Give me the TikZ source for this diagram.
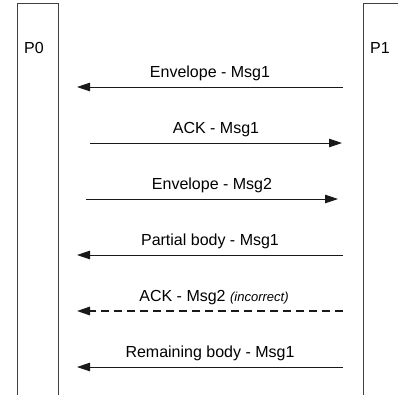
\documentclass[tikz,border=0pt]{standalone}
\usepackage{fontspec}
\setmainfont{Liberation Sans}
\usetikzlibrary{arrows.meta}
\begin{document}
\begin{tikzpicture}[x=1pt,y=-1pt,
  lane/.style={draw=black!75, line width=0.9pt},
  msg/.style={draw=black!90, line width=0.9pt, -{Triangle[length=13pt,width=8.5pt]}},
  wrongmsg/.style={msg, line width=1.5pt, dash pattern=on 8pt off 5pt},
  lbl/.style={font=\fontsize{16}{19}\selectfont, anchor=base, inner sep=0pt, text=black},
  proc/.style={font=\fontsize{16}{19}\selectfont, anchor=base west, inner sep=0pt, text=black}]
\useasboundingbox (0,0) rectangle (398,394);

% process columns (open at the bottom)
\draw[lane] (17,396) -- (17,3) -- (58,3) -- (58,396);
\draw[lane] (363,396) -- (363,3) -- (400,3);
\node[proc] (p0) at (24,53) {P0};
\node[proc] (p1) at (370,53) {P1};

% message end points
\coordinate (a1) at (343,87);  \coordinate (b1) at (77,87);
\coordinate (a2) at (90,143);  \coordinate (b2) at (342,143);
\coordinate (a3) at (86,199);  \coordinate (b3) at (338,199);
\coordinate (a4) at (343,255); \coordinate (b4) at (77,255);
\coordinate (a5) at (343,311); \coordinate (b5) at (77,311);
\coordinate (a6) at (343,367); \coordinate (b6) at (77,367);

% messages
\draw[msg] (a1) -- (b1);
\draw[msg] (a2) -- (b2);
\draw[msg] (a3) -- (b3);
\draw[msg] (a4) -- (b4);
\draw[wrongmsg] (a5) -- (b5);
\draw[msg] (a6) -- (b6);

% labels
\node[lbl] (l1) at (210,77) {Envelope - Msg1};
\node[lbl] (l2) at (216,133) {ACK - Msg1};
\node[lbl] (l3) at (212,189) {Envelope - Msg2};
\node[lbl] (l4) at (210,245) {Partial body - Msg1};
\node[lbl] (l5) at (214,301) {ACK - Msg2 {\fontsize{13}{15}\selectfont\itshape (incorrect)}};
\node[lbl] (l6) at (210,357) {Remaining body - Msg1};
\end{tikzpicture}
\end{document}
